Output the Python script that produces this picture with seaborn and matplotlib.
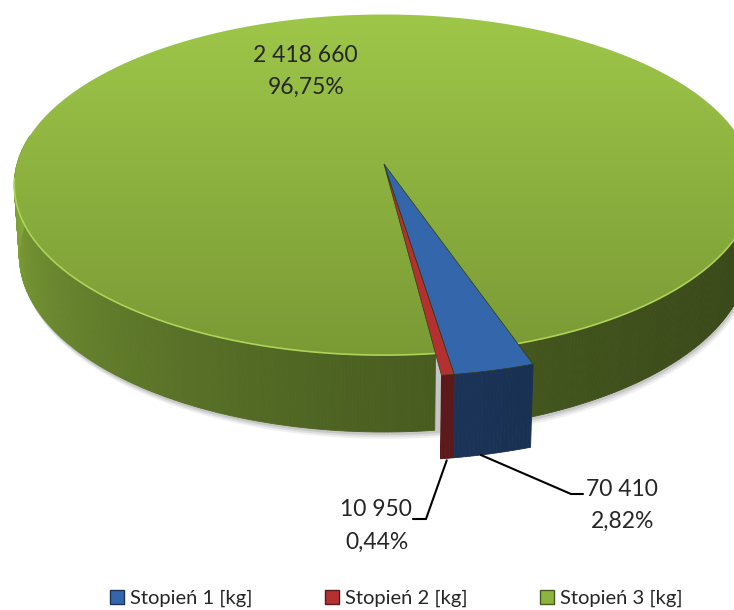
### Pseudo-3D pie of rocket stage masses ###

import matplotlib
matplotlib.use("Agg")
import matplotlib.pyplot as plt
import matplotlib.colors as mcolors
from matplotlib.patches import Polygon, Patch
import numpy as np
import seaborn as sns

# data
stages = ["Stopień 1 [kg]", "Stopień 2 [kg]", "Stopień 3 [kg]"]
masses = [70410, 10950, 2418660]
top_colors = ["#3466ac", "#b53131", "#8db43e"]
radii = [1.1, 1.1, 1.0]  # small slices stick out a bit in the original
depths = [0.235, 0.235, 0.218]

# view of the cylinder (pixel space of the figure)
TILT = np.radians(27.2)
DIST = 7.28
FOC = 367 * DIST
CX, CY = 384, 164
START = 161.2  # degrees, clockwise from the back


def project(theta, r, z):
    x3 = r * np.sin(theta)
    y3 = r * np.cos(theta)
    yc = y3 * np.sin(TILT) + z * np.cos(TILT)
    d = DIST + y3 * np.cos(TILT) - z * np.sin(TILT)
    return CX + FOC * x3 / d, CY - FOC * yc / d


def shade(color, theta_deg):
    f = 0.4 + 0.52 * np.clip((theta_deg - 90) / 180, 0, 1) ** 2
    return tuple(np.array(mcolors.to_rgb(color)) * f)


def fmt_num(v):
    return "{:,}".format(v).replace(",", " ")


def fmt_pct(p):
    return "{:.2f}%".format(p).replace(".", ",")


def side_wall(i, a0, a1, z):
    steps = np.append(np.arange(a0, a1, 0.5), a1)
    for s0, s1 in zip(steps[:-1], steps[1:]):
        mid = ((s0 + s1) / 2) % 360
        if not (80 <= mid <= 280):
            continue
        th = np.radians([s0, s1, s1, s0])
        h = depths[i]
        px, py = project(th, radii[i], np.array([0, 0, -h, -h]))
        c = shade(top_colors[i], mid)
        ax.add_patch(Polygon(np.c_[px, py], closed=True, facecolor=c,
                             edgecolor=c, linewidth=0.6, zorder=z))


sns.set_theme(style="white")
plt.rcParams["font.family"] = ["Lato", "DejaVu Sans"]

fig = plt.figure(figsize=(7.34, 6.10), dpi=100)
ax = fig.add_axes([0, 0, 1, 1])

total = sum(masses)
shares = [m / total for m in masses]
edges = START + 360 * np.concatenate([[0], np.cumsum(shares)])

# soft shadow under the cylinder
tt = np.radians(np.linspace(0, 360, 400))
for k, a in zip([7, 5, 3], [0.06, 0.08, 0.10]):
    sx, sy = project(tt, 1.0, -depths[2])
    ax.add_patch(Polygon(np.c_[sx + k * 0.4, sy + k], closed=True,
                         facecolor="black", alpha=a, edgecolor="none", zorder=1))

# big slice: side wall then top with a vertical gradient
side_wall(2, edges[2], edges[3], 2)
ex, ey = project(tt, 1.0, 0.0)
top_patch = Polygon(np.c_[ex, ey], closed=True, facecolor="none",
                    edgecolor="none", zorder=3)
ax.add_patch(top_patch)
grad = np.linspace(0, 1, 256)[:, None]
cmap = mcolors.LinearSegmentedColormap.from_list("g", ["#9ec749", "#7a9a35"])
im = ax.imshow(grad, cmap=cmap, extent=[0, 734, ey.max(), ey.min()],
               aspect="auto", zorder=3)
im.set_clip_path(top_patch)

# light rim along the front edge
rim = np.radians(np.linspace(95, 265, 200))
rx, ry = project(rim, 1.0, 0.0)
ax.plot(rx, ry, color="#aed457", lw=1.2, zorder=4)

# small slices: side walls and tops
for i in range(2):
    side_wall(i, edges[i], edges[i + 1], 4)
    th = np.radians(np.linspace(edges[i], edges[i + 1], 30))
    px, py = project(th, radii[i], 0.0)
    ax.add_patch(Polygon(np.c_[np.r_[CX, px], np.r_[CY, py]], closed=True,
                         facecolor=top_colors[i], edgecolor="#2d3b15",
                         linewidth=0.5, zorder=5))

# data labels
ax.text(305, 55, fmt_num(masses[2]), ha="center", va="center", fontsize=16.5, zorder=6)
ax.text(306, 87, fmt_pct(100 * shares[2]), ha="center", va="center", fontsize=16.5, zorder=6)

bx, by = project(np.radians((edges[0] + edges[1]) / 2 + 1.5), radii[0], -depths[0])
ax.plot([bx, 571, 583], [by, 494, 494], color="black", lw=1.5, zorder=6)
ax.text(586, 489, fmt_num(masses[0]), ha="left", va="center", fontsize=16.5)
ax.text(623, 521, fmt_pct(100 * shares[0]), ha="center", va="center", fontsize=16.5)

rx2, ry2 = project(np.radians((edges[1] + edges[2]) / 2), radii[1], -depths[1])
ax.plot([rx2, 426, 413], [ry2 + 2, 519, 519], color="black", lw=1.5, zorder=6)
ax.text(412, 510, fmt_num(masses[1]), ha="right", va="center", fontsize=16.5)
ax.text(377, 542, fmt_pct(100 * shares[1]), ha="center", va="center", fontsize=16.5)

# legend
handles = [Patch(facecolor=c, edgecolor=shade(c, 170)) for c in top_colors]
ax.legend(handles, stages, loc="lower center", bbox_to_anchor=(0.54, -0.025),
          ncol=3, frameon=False, fontsize=14.5, handlelength=0.7, handleheight=0.7,
          handletextpad=0.3, columnspacing=3.6)

ax.set_xlim(0, 734)
ax.set_ylim(610, 0)
ax.axis("off")
plt.savefig("out.png", dpi=100)
